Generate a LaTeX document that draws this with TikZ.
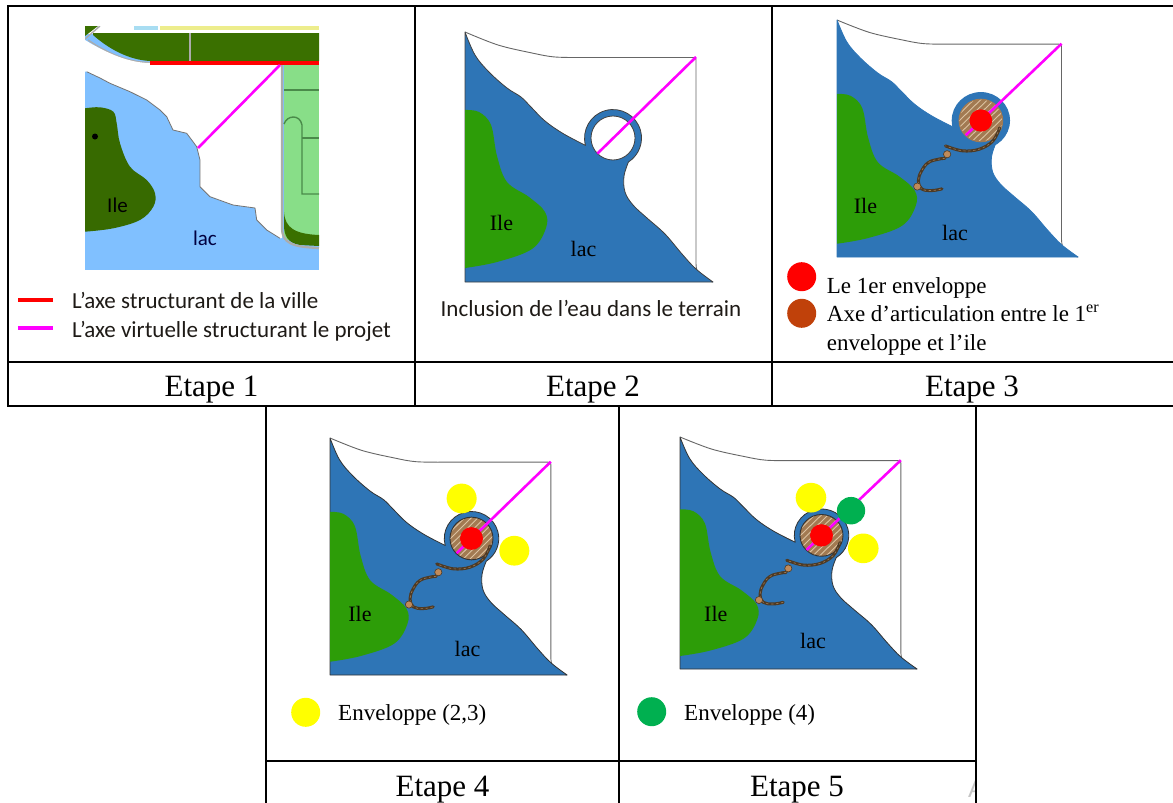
\documentclass[tikz,border=0pt]{standalone}
\usepackage{fontspec}
\setmainfont{Liberation Serif}
\newfontfamily\calfont{Carlito}
\newfontfamily\wmfont{Liberation Sans}

\definecolor{lakeblue}{HTML}{2E75B6}
\definecolor{islegreen}{HTML}{2D9D08}
\definecolor{citylake}{HTML}{80C0FF}
\definecolor{parkdark}{HTML}{3A7000}
\definecolor{parklight}{HTML}{88DE88}
\definecolor{parkroadcol}{HTML}{4A8A4A}
\definecolor{axispink}{HTML}{FF00FF}
\definecolor{envyellow}{HTML}{FFFF00}
\definecolor{envgreen}{HTML}{00B050}
\definecolor{rust}{HTML}{C0410A}
\definecolor{wood}{HTML}{A27A52}
\definecolor{woodlight}{HTML}{DCC3A2}
\definecolor{ropedark}{HTML}{4E3A24}
\definecolor{ropelight}{HTML}{9A7A58}
\definecolor{ballbrown}{HTML}{C08A5A}
\definecolor{inktext}{HTML}{1E1A16}
\definecolor{paleyellow}{HTML}{EDED8C}
\definecolor{paleblue}{HTML}{A8DDF2}

\tikzset{
  tableline/.style={line width=2pt, line cap=rect},
  etape/.style={anchor=base, inner sep=0pt, font=\fontsize{31}{31}\selectfont},
  legendtext/.style={anchor=base west, inner sep=0pt, font=\fontsize{23}{23}\selectfont},
  callegend/.style={anchor=base west, inner sep=0pt, text=inktext, font=\calfont\fontsize{23}{23}\selectfont},
  maplabel/.style={anchor=base, inner sep=0pt, font=\fontsize{22}{22}\selectfont},
  citylabel/.style={anchor=base, inner sep=0pt, font=\calfont\fontsize{21}{21}\selectfont},
  landline/.style={draw=black!60, line width=0.9pt, line join=round},
  pinkaxis/.style={draw=axispink, line width=2.6pt},
  redaxis/.style={draw=red, line width=4pt},
  rope/.style={draw=ropedark, line width=3pt, line cap=round,
    postaction={draw=ropelight, line width=0.6pt, dash pattern=on 2pt off 3pt}},
  ball/.style={fill=ballbrown, draw=ropedark, line width=0.6pt},
  road/.style={draw=gray!65, line width=1.4pt},
  parkroad/.style={draw=parkroadcol, line width=1.4pt},
  cityshore/.style={draw=black!55, line width=0.8pt, line join=round},
  legenddot/.style={circle, inner sep=0pt, minimum size=29pt}
}

% lake, land outline and island of one stage, in the stage's own frame
\newcommand{\lakemap}[1]{%
  \draw[landline] plot[smooth,tension=0.55] coordinates {(0,0) (33,13) (67,21) (90,25) (120,25.5)}
    -- (228,25.5) .. controls (230.5,25.5) and (231,26) .. (231,28)
    -- (231,232) .. controls (231,243) and (238,248) .. (248,250);
  \filldraw[fill=lakeblue, draw=#1, line width=0.8pt, line join=round]
    plot[smooth,tension=0.6] coordinates {(0,0) (10,23) (24,40) (42,56) (56,65) (66,75) (80,89) (98,101.5) (120.5,113.4)}
    arc[start angle=165, end angle=417, radius=28.5]
    -- plot[smooth,tension=0.6] coordinates {(163.5,129.9) (159,144) (160,160) (168,173) (182,186) (200,202) (217,222) (231,237) (248,250)}
    -- (0,250) -- cycle;
  \fill[islegreen] plot[smooth,tension=0.6] coordinates {(0,78) (14,80) (26,93) (32,124) (42,150) (64,165) (80,180) (81,196) (67,217) (32,230) (0,236)} -- cycle;
}

% wooden core of the first envelope
\newcommand{\woodcore}[1]{%
  \begin{scope}
    \clip (148,106) circle[radius=22.5];
    \fill[wood] (120,78) rectangle (176,134);
    \foreach \k in {-36,-29,...,36}
      \draw[woodlight, line width=0.9pt] ({148+(\k)-30},136) -- ({148+(\k)+30},76);
  \end{scope}
  \draw[draw=#1, line width=0.9pt] (148,106) circle[radius=22.5];
}

% articulation axis between the envelope and the island
\newcommand{\ropeaxis}{%
  \draw[rope] plot[smooth,tension=0.6] coordinates {(167.4,113.7) (160.4,127.6) (146.4,136.3) (129,138) (111.6,132.8)};
  \draw[rope] plot[smooth,tension=0.7] coordinates {(111,146) (104.6,146.8) (94.1,150.3) (87.1,159) (83.7,169.5) (87.1,178.1) (97.6,179.9) (108,178.1)};
  \filldraw[ball] (113.3,141.6) circle[radius=3.8];
  \filldraw[ball] (82.6,175.7) circle[radius=3.8];
}

\begin{document}
\begin{tikzpicture}[x=1pt, y=-1pt]
\useasboundingbox (0,0) rectangle (1173,803);

% ---------- table ----------
\draw[tableline] (8,6) rectangle (1175,405.5);
\draw[tableline] (8,362) -- (1175,362);
\draw[tableline] (415,6) -- (415,405.5);
\draw[tableline] (772,6) -- (772,405.5);
\draw[tableline] (266,405.5) -- (266,806);
\draw[tableline] (619,405.5) -- (619,806);
\draw[tableline] (975.5,405.5) -- (975.5,806);
\draw[tableline] (266,761) -- (975.5,761);

\node[etape] (et1) at (211.5,396) {Etape 1};
\node[etape] (et2) at (593,396) {Etape 2};
\node[etape] (et3) at (972,396) {Etape 3};
\node[etape] (et4) at (442.5,796) {Etape 4};
\node[etape] (et5) at (797,796) {Etape 5};

% ---------- stage 1 : site plan ----------
\begin{scope}
  \clip (85,26) rectangle (319,270);
  \fill[citylake] (85,26) rectangle (319,270);
  \fill[white] (85,26) rectangle (319,34);
  \fill[paleyellow] (160,26) rectangle (319,30);
  \fill[paleblue] (134,26) rectangle (158,30);
  \fill[parkdark] (85,26) -- (98,26) -- (85,36) -- cycle;
  \fill[parkdark] (93,33) -- (319,33) -- (319,61) -- (150,61) .. controls (130,60) and (110,50) .. (93,35) -- cycle;
  \draw[road] (85,39) -- (100,26);
  \draw[road] (88,40) .. controls (110,55) and (130,62.5) .. (150,62.5);
  \draw[road] (190,33) -- (190,61);
  % dry land between road and shore
  \fill[white] (85,40) .. controls (108,54) and (130,63) .. (150,63) -- (282,63) -- (282,238)
    -- (280,238.3) -- (266.7,230) -- (256.7,220) -- (255,208) -- (233,205) -- (210,196.7) -- (200,186.7)
    -- (200,160) -- (196.7,146.7) -- (186.7,133.3) -- (173,130) -- (166.7,116.7) -- (160,110)
    -- (146.7,100) -- (130,91.7) -- (110,83.3) -- (100,78) -- (86.7,71.7) -- (85,71.7) -- cycle;
  \draw[cityshore] (280,238.3) -- (266.7,230) -- (256.7,220) -- (255,208) -- (233,205) -- (210,196.7) -- (200,186.7)
    -- (200,160) -- (196.7,146.7) -- (186.7,133.3) -- (173,130) -- (166.7,116.7) -- (160,110)
    -- (146.7,100) -- (130,91.7) -- (110,83.3) -- (100,78) -- (86.7,71.7);
  % park to the east
  \fill[parklight] (284,64) rectangle (319,240);
  \fill[parkdark] (284,212) .. controls (285,228) and (295,234) .. (319,235) -- (319,246)
    -- (300,245) .. controls (288,243) and (284,236) .. (284,225) -- cycle;
  \draw[road, line width=2.2pt] (282,63) -- (282,228) .. controls (282,243) and (292,247) .. (319,248);
  \draw[parkroad] (284,90) -- (319,90);
  \draw[parkroad] (284,124) .. controls (287,115) and (300,114) .. (302,125) -- (302,194) -- (319,194);
  \draw[parkroad] (302,138) -- (319,138);
  \draw[redaxis] (150,63) -- (319,63);
  % island
  \fill[parkdark!95!black] plot[smooth,tension=0.6] coordinates {(85,108.3) (100,107.3) (113.3,111.7) (116.7,123.3) (120,143.3) (130,166.7) (146.7,180) (155,193.3) (153.3,206.7) (140,220) (113.3,228.3) (85,231.7)} -- cycle;
  \fill[black] (95,136.5) circle[radius=3];
  \draw[pinkaxis] (280,65) -- (198,148);
\end{scope}
\node[citylabel, text=black] (ile1) at (117.5,212) {Ile};
\node[citylabel, text=black!75!blue] (lac1) at (205,245) {lac};

\draw[redaxis] (18,300) -- (53,300);
\draw[pinkaxis, line width=4pt] (18,328) -- (53,328);
\node[callegend] (lg1a) at (72,308) {L’axe structurant de la ville};
\node[callegend] (lg1b) at (72,337) {L’axe virtuelle structurant le projet};

% ---------- stage 2 ----------
\begin{scope}[shift={(465,32)}]
  \lakemap{black!75}
  \draw[draw=black!75, line width=0.8pt, fill=white] (148,106) circle[radius=22];
  \draw[pinkaxis] (231,25) -- (132.4,121.6);
\end{scope}
\node[maplabel] (ile2) at (501.5,230) {Ile};
\node[maplabel] (lac2) at (583.5,256.7) {lac};
\node[callegend, anchor=base] (cap2) at (591,316.7) {Inclusion de l’eau dans le terrain};

% ---------- stage 3 ----------
\begin{scope}[shift={(837,20)}, xscale=0.972, yscale=0.948]
  \lakemap{lakeblue}
  \fill[lakeblue] (148,106) circle[radius=30];
  \woodcore{wood}
  \ropeaxis
  \draw[pinkaxis] (231,25) -- (132.4,121.6);
  \fill[red] (148,106) circle[radius=11.7];
\end{scope}
\node[maplabel] (ile3) at (865.5,213.3) {Ile};
\node[maplabel] (lac3) at (955,240) {lac};
\node[legenddot, fill=red] (dot3a) at (801.7,276.7) {};
\node[legenddot, fill=rust] (dot3b) at (801.7,313.3) {};
\node[legendtext] (lg3a) at (826.7,293.3) {Le 1er enveloppe};
\node[legendtext] (lg3b) at (826.7,321.7) {Axe d’articulation entre le 1\textsuperscript{er}};
\node[legendtext] (lg3c) at (826.7,350) {enveloppe et l’ile};

% ---------- stage 4 ----------
\begin{scope}[shift={(330,438)}, xscale=0.956, yscale=0.948]
  \lakemap{black!80}
  \woodcore{black!80}
  \ropeaxis
  \draw[pinkaxis] (231,25) -- (132.4,121.6);
  \fill[red] (148,106) circle[radius=12];
  \fill[envyellow] (137.7,63.8) circle[radius=15.7];
  \fill[envyellow] (192.8,118.9) circle[radius=15.7];
\end{scope}
\node[maplabel] (ile4) at (360,621) {Ile};
\node[maplabel] (lac4) at (467.5,656) {lac};
\node[legenddot, fill=envyellow] (dot4) at (305.7,712.3) {};
\node[legendtext] (lg4) at (338,720) {Enveloppe (2,3)};

% ---------- stage 5 ----------
\begin{scope}[shift={(680,437)}, xscale=0.956, yscale=0.928]
  \lakemap{black!80}
  \woodcore{black!80}
  \ropeaxis
  \draw[pinkaxis] (231,25) -- (132.4,121.6);
  \fill[red] (148,106) circle[radius=12];
  \fill[envyellow] (137,65.4) circle[radius=16];
  \fill[envyellow] (191.7,120) circle[radius=16];
  \fill[envgreen] (178.9,79.4) circle[radius=14.8];
\end{scope}
\node[maplabel] (ile5) at (715.8,621) {Ile};
\node[maplabel] (lac5) at (813,648.3) {lac};
\node[legenddot, fill=envgreen] (dot5) at (651.7,711.7) {};
\node[legendtext] (lg5) at (684,720) {Enveloppe (4)};

% faint letter behind the right border
\begin{scope}
  \clip (940,760) rectangle (974.5,803);
  \node[anchor=base, inner sep=0pt, text=gray!45, font=\wmfont\fontsize{24}{24}\selectfont] (wm) at (976,797) {A};
\end{scope}
\end{tikzpicture}
\end{document}
